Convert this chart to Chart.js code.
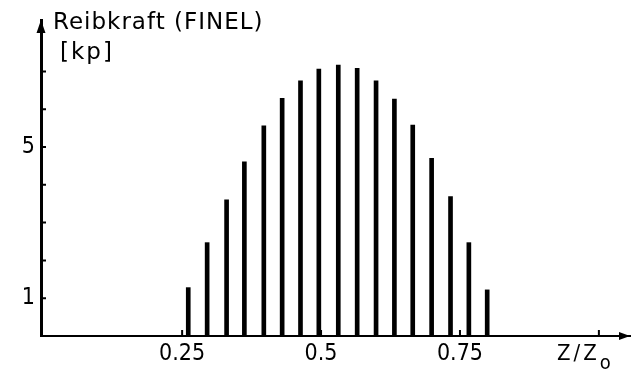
<!DOCTYPE html>
<html>
<head>
<meta charset="utf-8">
<script src="https://cdn.jsdelivr.net/npm/chart.js@4/dist/chart.umd.min.js"></script>
<style>
  body { margin: 0; background: #fff; }
  #wrap { position: relative; width: 640px; height: 374px; }
  .lbl { position: absolute; font-family: 'DejaVu Sans', sans-serif; color: #000; white-space: nowrap; line-height: 23px; }
</style>
</head>
<body>
<div id="wrap">
  <canvas id="chart"></canvas>
  <div class="lbl" style="left:53px; top:10px; font-size:23px; letter-spacing:1px;">Reibkraft (FINEL)</div>
  <div class="lbl" style="left:60px; top:40px; font-size:23px; letter-spacing:2px;">[kp]</div>
  <div class="lbl" style="left:557px; top:341px; font-size:22px; font-family:'DejaVu Sans Condensed','DejaVu Sans',sans-serif; letter-spacing:3px;">Z/Z<span style="position:relative; top:9px; font-size:20px; letter-spacing:0;">o</span></div>
</div>
<script>
// Friction force vs. relative position
const positions = [0.261, 0.295, 0.330, 0.362, 0.397, 0.430, 0.463, 0.496, 0.531,
                   0.565, 0.599, 0.632, 0.665, 0.699, 0.733, 0.766, 0.799];
const forces    = [1.28, 2.47, 3.60, 4.61, 5.56, 6.29, 6.75, 7.06, 7.17,
                   7.08, 6.75, 6.27, 5.58, 4.70, 3.69, 2.47, 1.22];

const xTicks      = [0.25, 0.5, 0.75, 1.0];
const xTickLabels = ['0.25', '0.5', '0.75', ''];
const yTicks      = [1, 2, 3, 4, 5, 6, 7];
const yTickLabels = { 1: '1', 5: '5' };

const INK = '#000';

// Inward tick marks and arrow heads on both axes
const axisDecor = {
  id: 'axisDecor',
  afterDraw(chart) {
    const { ctx, chartArea: a, scales: { x, y } } = chart;
    ctx.save();
    ctx.strokeStyle = INK;
    ctx.fillStyle = INK;
    ctx.lineWidth = 2;
    ctx.beginPath();
    y.ticks.forEach(t => {
      const py = y.getPixelForValue(t.value);
      ctx.moveTo(a.left, py);
      ctx.lineTo(a.left + 5, py);
    });
    x.ticks.forEach(t => {
      const px = x.getPixelForValue(t.value);
      ctx.moveTo(px, a.bottom);
      ctx.lineTo(px, a.bottom - 6);
    });
    ctx.stroke();

    // y arrow
    ctx.beginPath();
    ctx.moveTo(a.left, a.top);
    ctx.lineTo(a.left - 4.5, a.top + 13);
    ctx.lineTo(a.left + 4.5, a.top + 13);
    ctx.closePath();
    ctx.fill();

    // x arrow
    ctx.beginPath();
    ctx.moveTo(a.right, a.bottom);
    ctx.lineTo(a.right - 11, a.bottom - 4);
    ctx.lineTo(a.right - 11, a.bottom + 4);
    ctx.closePath();
    ctx.fill();
    ctx.restore();
  }
};

new Chart(document.getElementById('chart'), {
  type: 'bar',
  data: {
    datasets: [{
      data: positions.map((p, i) => ({ x: p, y: forces[i] })),
      backgroundColor: INK,
      borderWidth: 0,
      barThickness: 4,
    }],
  },
  options: {
    responsive: true,
    maintainAspectRatio: false,
    animation: false,
    layout: { padding: { top: 20, right: 10, left: 0, bottom: 0 } },
    plugins: { legend: { display: false }, tooltip: { enabled: false } },
    scales: {
      x: {
        type: 'linear',
        min: -0.004,
        max: 1.056,
        offset: false,
        afterFit: s => { s.height = 38; },
        afterBuildTicks: s => { s.ticks = xTicks.map(v => ({ value: v })); },
        ticks: {
          autoSkip: false,
          maxRotation: 0,
          padding: 4,
          color: INK,
          font: { family: "'DejaVu Sans Condensed', 'DejaVu Sans', sans-serif", size: 23 },
          callback: (v) => xTickLabels[xTicks.indexOf(v)] ?? '',
        },
        grid: { display: false, drawTicks: false },
        border: { display: true, color: INK, width: 2 },
      },
      y: {
        min: 0,
        max: 8.36,
        afterFit: s => { s.width = 41; },
        afterBuildTicks: s => { s.ticks = yTicks.map(v => ({ value: v })); },
        ticks: {
          autoSkip: false,
          padding: 6,
          color: INK,
          font: { family: "'DejaVu Sans Condensed', 'DejaVu Sans', sans-serif", size: 23 },
          callback: (v) => yTickLabels[v] ?? '',
        },
        grid: { display: false, drawTicks: false },
        border: { display: true, color: INK, width: 3 },
      },
    },
  },
  plugins: [axisDecor],
});
</script>
</body>
</html>
